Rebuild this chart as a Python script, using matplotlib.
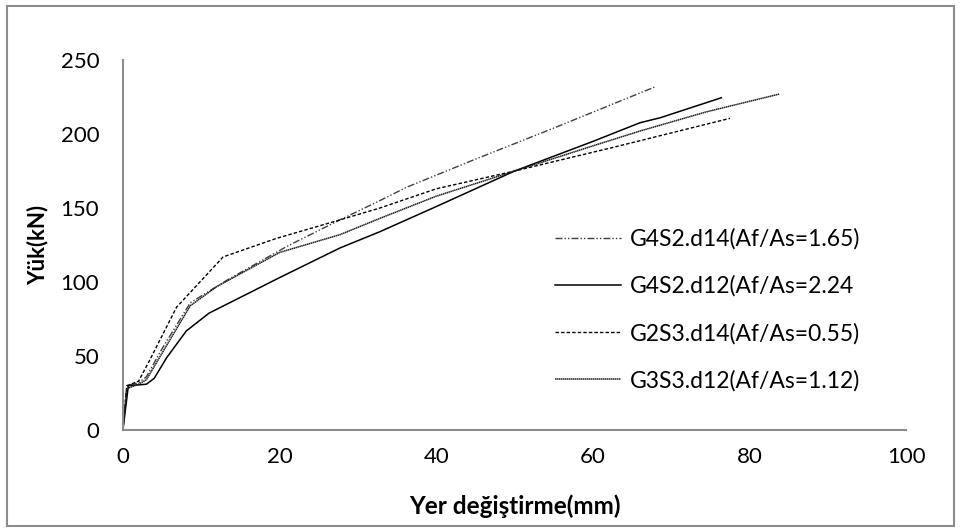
import matplotlib.pyplot as plt
from matplotlib.patches import Rectangle

# load-displacement curves (x: mm, y: kN)
g4s2_d14_x = [0, 0.5, 2, 3, 5, 8.6, 13.2, 20.9, 27.7, 32.8, 36.2, 45, 55, 68]
g4s2_d14_y = [0, 30, 32, 36, 55, 86, 101, 124, 142, 155, 164, 183, 204, 232]

g4s2_d12_x = [0, 0.7, 3, 4, 5.6, 8.1, 11, 20, 27.7, 32.8, 40, 50, 60, 66, 68.6, 76.4]
g4s2_d12_y = [0, 30, 31, 35, 49, 67, 79, 103, 123, 134, 151, 175, 195, 207.6, 211, 224.5]

g2s3_d14_x = [0, 0.5, 2, 3.4, 6.85, 12.8, 19.6, 27.7, 32.8, 40, 50, 62.6, 77.5]
g2s3_d14_y = [0, 30, 33, 47, 83, 117, 129.5, 142, 150, 163, 175, 191, 210.6]

g3s3_d12_x = [0, 0.5, 2, 3, 5, 8.6, 12, 20, 27.7, 32.8, 40, 50, 60, 66, 74.5, 83.8]
g3s3_d12_y = [0, 28, 31, 34, 52, 84, 97, 120, 132, 143, 158, 175, 192, 202, 215, 227]

labels = ['G4S2.d14(Af/As=1.65)', 'G4S2.d12(Af/As=2.24', 'G2S3.d14(Af/As=0.55)', 'G3S3.d12(Af/As=1.12)']

plt.rcParams['font.family'] = ['Lato', 'DejaVu Sans']

fig = plt.figure(figsize=(9.6, 5.31), dpi=100)
ax = fig.add_axes([0.128, 0.190, 0.816, 0.697])

ax.plot(g4s2_d14_x, g4s2_d14_y, color='#404040', lw=1, dashes=(5, 1.5, 1, 1.5, 1, 1.5), label=labels[0])
ax.plot(g4s2_d12_x, g4s2_d12_y, color='black', lw=1.1, label=labels[1])
ax.plot(g2s3_d14_x, g2s3_d14_y, color='black', lw=1, dashes=(2.5, 1.5), label=labels[2])
ax.plot(g3s3_d12_x, g3s3_d12_y, color='#202020', lw=1.1, dashes=(1, 0.3), label=labels[3])

ax.set_xlim(0, 100)
ax.set_ylim(0, 250)
ax.set_xticks(range(0, 101, 20))
ax.set_yticks(range(0, 251, 50))
ax.tick_params(length=0, labelsize=16)
ax.tick_params(axis='y', pad=17)
ax.tick_params(axis='x', pad=12)
for s in ['top', 'right']:
    ax.spines[s].set_visible(False)
for s in ['left', 'bottom']:
    ax.spines[s].set_color('#8c8c8c')
    ax.spines[s].set_linewidth(1.5)

ax.set_xlabel('Yer değiştirme(mm)', fontsize=17.5, fontweight='bold', labelpad=20)
ax.set_ylabel('Yük(kN)', fontsize=16, fontweight='bold', labelpad=9)

ax.legend(loc='center left', bbox_to_anchor=(0.537, 0.325), frameon=False, fontsize=16.5,
          borderpad=0, handlelength=2.9, handletextpad=0.35, labelspacing=1.12)

fig.patches.append(Rectangle((0.0073, 0.0094), 0.9865, 0.979, transform=fig.transFigure,
                             fill=False, edgecolor='#8c8c8c', lw=1.5))

fig.savefig('out.png', dpi=100)
